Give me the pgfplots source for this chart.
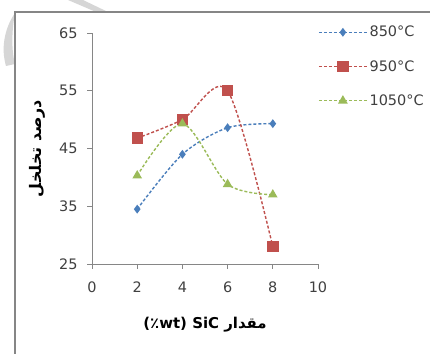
\documentclass[border=0pt]{standalone}
\usepackage{fontspec}
\usepackage{pgfplots}
\pgfplotsset{compat=1.18}
\setmainfont{DejaVu Sans}
\newfontfamily\arabicfont[Script=Arabic]{DejaVu Sans}
\TeXXeTstate=1
\definecolor{cblue}{HTML}{4A7EBB}
\definecolor{cred}{HTML}{C0504D}
\definecolor{cgreen}{HTML}{9BBB59}
\definecolor{axgray}{HTML}{868686}
\definecolor{txtgray}{HTML}{404040}
\pgfplotsset{
  mylegend/.style={legend image code/.code={%
    \draw[color=#1, line width=1.4bp, dash pattern=on 3bp off 2bp] (0bp,0bp) -- (48bp,0bp);
    \draw[##1, mark repeat=2, mark phase=2, draw=none] plot coordinates {(0bp,0bp) (24bp,0bp) (48bp,0bp)};}},
}
\begin{document}
\begin{tikzpicture}[x=1bp,y=1bp]
\useasboundingbox (0,0) rectangle (430,354);
\fill[white] (0,0) rectangle (430,354);
% faint watermark fragments
\fill[black!16] (68,354) -- (83,354) -- (108,342) -- (96,342) -- cycle;
\fill[black!16] (15,341) .. controls (4,325) and (1,305) .. (6,288) -- (15,290) .. controls (11,305) and (12,325) .. (15,341) -- cycle;
% frame
\draw[axgray, line width=1.5bp] (15,0) -- (15,342) -- (430,342);
\begin{axis}[
  at={(92bp,90bp)}, anchor=south west,
  scale only axis, width=226bp, height=231bp,
  xmin=0, xmax=10, ymin=25, ymax=65,
  xtick={0,2,...,10}, ytick={25,35,...,65},
  axis x line*=bottom, axis y line*=left,
  axis line style={draw=axgray, line width=0.8bp, -},
  tick style={draw=axgray, line width=0.8bp},
  major tick length=5bp, tick align=outside,
  tick label style={font=\fontsize{14.5}{15}\selectfont, text=txtgray},
  /pgf/number format/assume math mode=true,
  xticklabel style={yshift=-9bp},
  yticklabel style={xshift=-6bp},
  xlabel={\fontsize{15}{16}\selectfont\bfseries (\arabicfont ٪\bfseries wt) SiC {\arabicfont\beginR مقدار\endR}},
  ylabel={\fontsize{16}{17}\selectfont\arabicfont\bfseries\beginR درصد تخلخل\endR},
  every axis x label/.style={at={(axis description cs:0.5,0)}, yshift=-61bp, anchor=center, text=black},
  every axis y label/.style={at={(axis description cs:0,0.5)}, xshift=-55bp, anchor=center, rotate=90, text=black},
  legend style={at={(axis cs:10,65)}, anchor=north west, draw=none, fill=none,
    inner xsep=0pt, inner ysep=0pt, yshift=9bp, row sep=18bp,
    font=\fontsize{14.5}{15}\selectfont, text=txtgray,
    /tikz/every even column/.append style={column sep=0bp}},
  legend cell align=left,
  clip=false,
]
\addplot[color=cblue, smooth, line width=1.4bp, dash pattern=on 3bp off 2bp, mark=diamond*, mark size=3.3bp, mark options={solid}, mylegend=cblue] coordinates {(2,34.5) (4,44.0) (6,48.6) (8,49.3)};
\addlegendentry{850°C}
\addplot[color=cred, smooth, line width=1.4bp, dash pattern=on 3bp off 2bp, mark=square*, mark size=5bp, mark options={solid, rounded corners=1.5bp}, mylegend=cred] coordinates {(2,46.8) (4,50.0) (6,55.0) (8,28.0)};
\addlegendentry{950°C}
\addplot[color=cgreen, smooth, line width=1.4bp, dash pattern=on 3bp off 2bp, mark=triangle*, mark size=4.2bp, mark options={solid}, mylegend=cgreen] coordinates {(2,40.3) (4,49.3) (6,38.8) (8,37.0)};
\addlegendentry{1050°C}
\end{axis}
\end{tikzpicture}
\end{document}
